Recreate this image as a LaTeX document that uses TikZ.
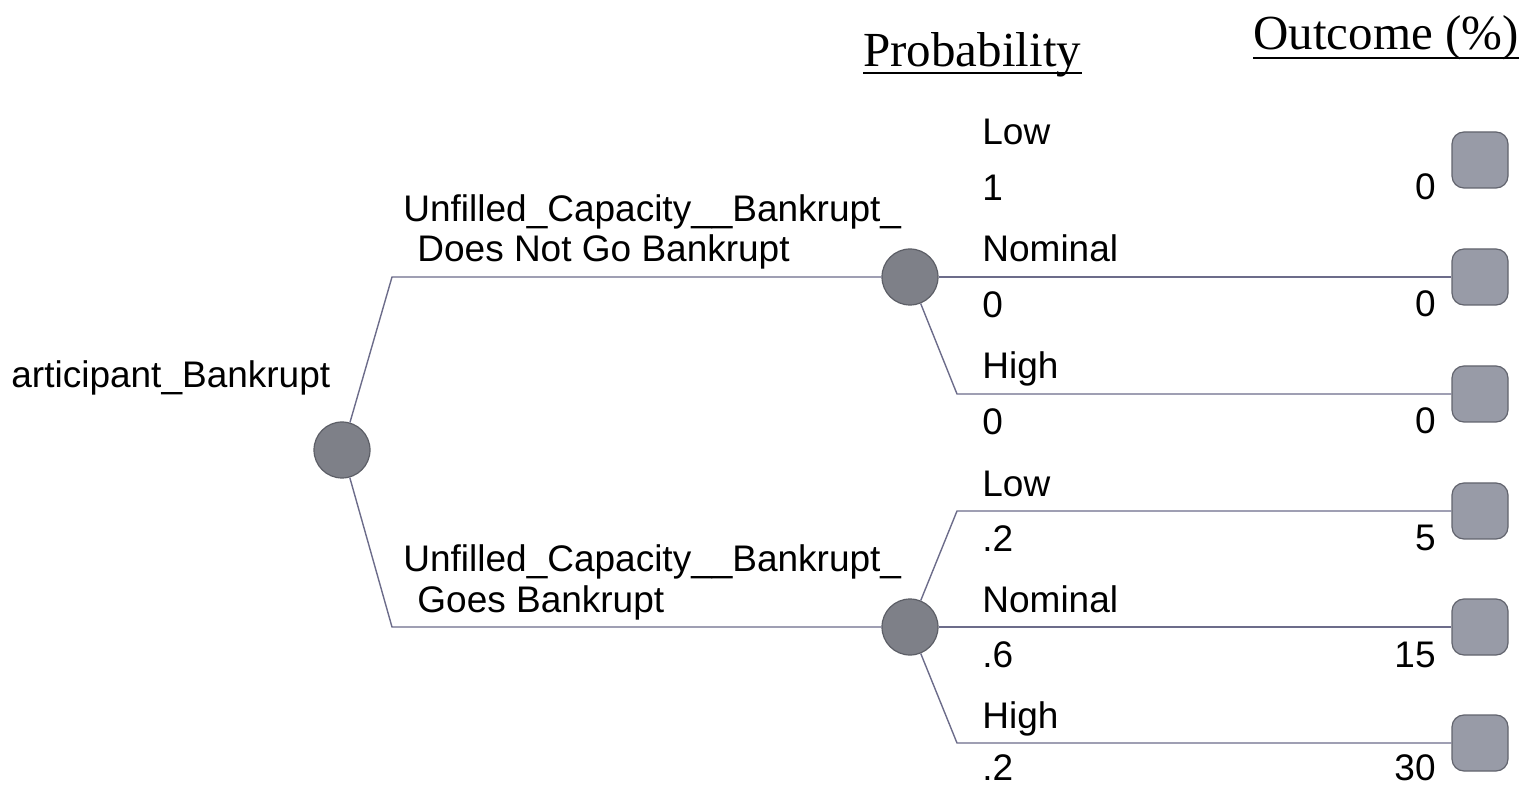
\documentclass[tikz,border=0pt]{standalone}
\usepackage{fontspec}
\setmainfont{Liberation Sans}
\newfontfamily\headfont{Liberation Serif}
\definecolor{chancefill}{RGB}{126,128,136}
\definecolor{chanceline}{RGB}{92,94,102}
\definecolor{termfill}{RGB}{152,155,167}
\definecolor{termline}{RGB}{98,100,110}
\definecolor{branchcol}{RGB}{108,108,138}
\begin{document}
\begin{tikzpicture}[x=0.5pt,y=-0.5pt,
  chance/.style={circle,draw=chanceline,fill=chancefill,line width=0.6pt,
    minimum size=28pt,inner sep=0pt},
  terminal/.style={rectangle,rounded corners=6pt,draw=termline,fill=termfill,
    line width=0.6pt,minimum size=28pt,inner sep=0pt},
  branch/.style={draw=branchcol,line width=0.7pt},
  lbl/.style={inner sep=0pt,font=\fontsize{18.5}{22}\selectfont},
  lblw/.style={lbl,anchor=base west},
  lble/.style={lbl,anchor=base east},
  heading/.style={inner sep=0pt,anchor=base west,font=\headfont\fontsize{24.5}{29}\selectfont},
  headrule/.style={draw=black,line width=0.9pt}
]
\useasboundingbox (0,0) rectangle (1528,786);

% column headings
\node[heading] (hprob) at (863,67) {Probability};
\node[heading] (hout) at (1253,50) {Outcome (\%)};
\draw[headrule] ([yshift=-3pt]hprob.base west) -- ([yshift=-3pt]hprob.base east);
\draw[headrule] ([yshift=-4pt]hout.base west) -- ([yshift=-4pt]hout.base east);

% chance nodes
\node[chance] (root) at (342,450) {};
\node[chance] (n1) at (910,277) {};
\node[chance] (n2) at (910,627) {};

% terminal nodes
\node[terminal] (t11) at (1480,160) {};
\node[terminal] (t12) at (1480,277) {};
\node[terminal] (t13) at (1480,394) {};
\node[terminal] (t21) at (1480,511) {};
\node[terminal] (t22) at (1480,627) {};
\node[terminal] (t23) at (1480,743) {};

% elbow points of the branches
\coordinate (e1) at (392,277);
\coordinate (e2) at (392,627);
\coordinate (e13) at (957,394);
\coordinate (e21) at (957,511);
\coordinate (e23) at (957,743);

% branches
\draw[branch] (root) -- (e1) -- (n1);
\draw[branch] (root) -- (e2) -- (n2);
\draw[branch] (n1) -- (t12);
\draw[branch] (n1) -- (e13) -- (t13);
\draw[branch] (n2) -- (e21) -- (t21);
\draw[branch] (n2) -- (t22);
\draw[branch] (n2) -- (e23) -- (t23);

% root label
\node[lblw] (lroot) at (11,388) {articipant\_Bankrupt};

% first-level branch labels
\node[lblw] (la1) at (403,222) {Unfilled\_Capacity\_\_Bankrupt\_};
\node[lblw] (la2) at (417,262) {Does Not Go Bankrupt};
\node[lblw] (lb1) at (403,571) {Unfilled\_Capacity\_\_Bankrupt\_};
\node[lblw] (lb2) at (417,612) {Goes Bankrupt};

% outcome branch names and probabilities
\node[lblw] (s11) at (982,145) {Low};
\node[lblw] (p11) at (982,201) {1};
\node[lblw] (s12) at (982,262) {Nominal};
\node[lblw] (p12) at (982,318) {0};
\node[lblw] (s13) at (982,379) {High};
\node[lblw] (p13) at (982,435) {0};
\node[lblw] (s21) at (982,496) {Low};
\node[lblw] (p21) at (982,552) {.2};
\node[lblw] (s22) at (982,612) {Nominal};
\node[lblw] (p22) at (982,668) {.6};
\node[lblw] (s23) at (982,728) {High};
\node[lblw] (p23) at (982,780) {.2};

% outcome values
\node[lble] (v11) at (1436,200) {0};
\node[lble] (v12) at (1436,317) {0};
\node[lble] (v13) at (1436,434) {0};
\node[lble] (v21) at (1436,551) {5};
\node[lble] (v22) at (1436,667) {15};
\node[lble] (v23) at (1436,780) {30};
\end{tikzpicture}
\end{document}
